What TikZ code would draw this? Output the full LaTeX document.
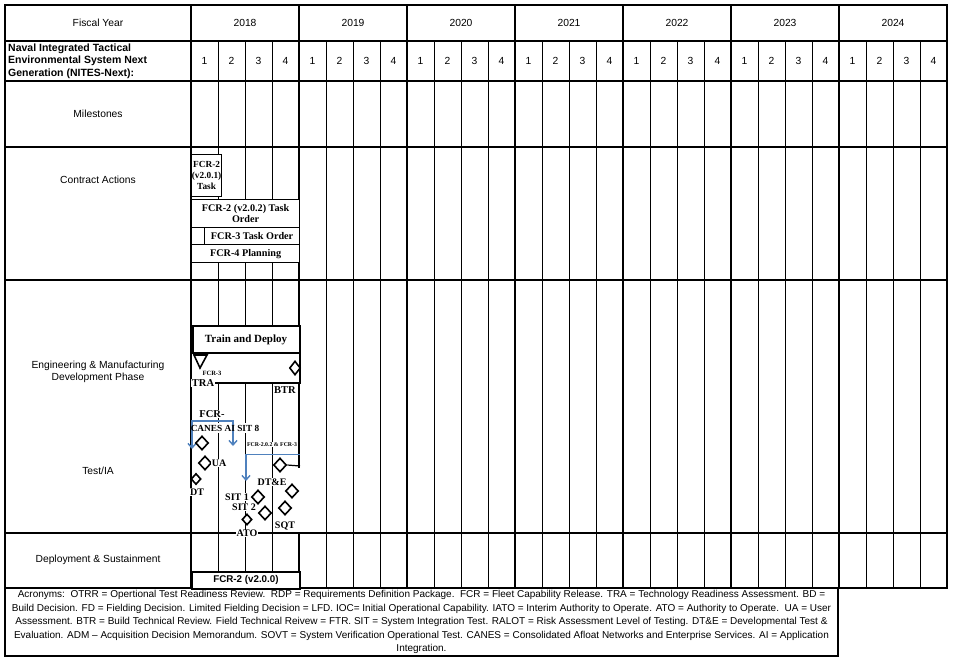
\documentclass[tikz,border=0pt]{standalone}
\usepackage{fontspec}
\setmainfont{Liberation Sans}
\newfontfamily\tms{Liberation Serif}
\usetikzlibrary{shapes.geometric,arrows.meta}
\definecolor{blu}{RGB}{79,129,189}
\begin{document}
\begin{tikzpicture}[x=1pt,y=-1pt,
  thinln/.style={line width=0.9pt},
  yrln/.style={line width=1.7pt},
  rowln/.style={line width=1.3pt},
  lbl/.style={font=\fontsize{10.3}{12.5}\selectfont, align=center, inner sep=0pt},
  tb/.style={font=\tms\bfseries\fontsize{10.2}{11.5}\selectfont, align=center, inner sep=0pt},
  tl/.style={font=\tms\bfseries\fontsize{10}{11}\selectfont, fill=white, inner sep=0.6pt},
  cbox/.style={draw, line width=1.2pt, fill=white},
  dia/.style={diamond, draw, line width=1.6pt, fill=white, minimum width=13pt, minimum height=14pt, inner sep=0pt},
  sdia/.style={dia, minimum width=10pt, minimum height=11pt},
  bluarr/.style={draw=blu, line width=1.6pt},
  tip/.tip={Straight Barb[length=4.5pt,width=8pt,line width=1.4pt]}
]
\path[use as bounding box, fill=white] (0,0) rectangle (953,662);
% quarter lines
\foreach \k in {0,...,6}{
  \foreach \q in {1,2,3}{
    \draw[thinln] ({191+108*\k+27*\q},41) -- ({191+108*\k+27*\q},588);
  }
}
% year lines
\foreach \k in {0,...,6}{
  \draw[yrln] ({191+108*\k},5) -- ({191+108*\k},588);
}
% rows
\foreach \yy in {41,81}{\draw[yrln] (5,\yy) -- (947,\yy);}
\foreach \yy in {147,280,533}{\draw[rowln] (5,\yy) -- (947,\yy);}
\draw[line width=1.9pt] (5,5) rectangle (947,588);
\draw[line width=1.9pt] (5,588) rectangle (838,656);
% header texts
\node[lbl] (fy) at (98,23) {Fiscal Year};
\foreach \k in {0,...,6}{
  \pgfmathtruncatemacro{\yr}{2018+\k}
  \node[lbl] (y\k) at ({191+108*\k+54},23) {\yr};
  \foreach \q in {1,2,3,4}{
    \node[lbl] (q\k\q) at ({191+108*\k+27*\q-13.5},61) {\q};
  }
}
\node[font=\bfseries\fontsize{10.5}{12.3}\selectfont, align=left, inner sep=0pt, anchor=west] (nites) at (8,61)
  {Naval Integrated Tactical\\Environmental System Next\\Generation (NITES-Next):};
\node[lbl] (ms) at (98,114) {Milestones};
\node[lbl] (ca) at (98,180) {Contract Actions};
\node[lbl] (emd) at (98,372) {Engineering \& Manufacturing\\Development Phase};
\node[lbl] (tia) at (98,471) {Test/IA};
\node[lbl] (ds) at (98,560) {Deployment \& Sustainment};
% contract actions
\node[cbox, minimum width=30pt, minimum height=42pt, anchor=north west, inner sep=0pt] (ca1) at (191,154) {};
\node[tb, font=\tms\bfseries\fontsize{9.3}{10.8}\selectfont] at (ca1.center) {FCR-2\\(v2.0.1)\\Task};
\node[cbox, minimum width=108pt, minimum height=28pt, anchor=north west, inner sep=0pt] (ca2) at (191,199) {};
\node[tb] at (ca2.center) {FCR-2 (v2.0.2) Task\\Order};
\node[cbox, minimum width=13pt, minimum height=17pt, anchor=north west, inner sep=0pt] (ca3a) at (191,227) {};
\node[cbox, minimum width=95pt, minimum height=17pt, anchor=north west, inner sep=0pt] (ca3) at (204,227) {};
\node[tb] at (ca3.center) {FCR-3 Task Order};
\node[cbox, minimum width=108pt, minimum height=18pt, anchor=north west, inner sep=0pt] (ca4) at (191,244) {};
\node[tb] at (ca4.center) {FCR-4 Planning};
% engineering
\draw[line width=1.2pt, fill=white] (191,352) rectangle (300,383);
\node[draw, line width=2pt, fill=white, minimum width=107pt, minimum height=27pt, anchor=north west, inner sep=0pt] (td) at (191.5,325) {};
\node[tb, font=\tms\bfseries\fontsize{11}{12}\selectfont] at (td.center) {Train and Deploy};
\draw[line width=1.6pt, fill=white] (194,355) coordinate (t1) -- (207,355) coordinate (t2) -- (200,368) coordinate (t3) -- cycle;
\node[tl, fill=none, font=\tms\bfseries\fontsize{6.5}{7}\selectfont] (fcr3) at (212,373) {FCR-3};
\node[tl, font=\tms\bfseries\fontsize{10.5}{12}\selectfont] (tra) at (203,383) {TRA};
\node[dia, minimum width=11pt] (btrd) at (295,368) {};
\node[tl, font=\tms\bfseries\fontsize{10.5}{12}\selectfont] (btr) at (285,390) {BTR};
% hide x=300 segment
\fill[white] (298,468) rectangle (302,532.3);
% test / IA
\node[tl, font=\tms\bfseries\fontsize{10.5}{12}\selectfont] (fcrm) at (212,414) {FCR-};
\fill[white] (193,423) rectangle (259,433);
\coordinate (b1a) at (192,421);
\coordinate (b1b) at (233,421);
\coordinate (b1c) at (192,449);
\coordinate (b1d) at (233,446);
\draw[bluarr, tip-tip] (b1c) -- (b1a) -- (b1b) -- (b1d);
\node[tl, fill=none, font=\tms\bfseries\fontsize{9.3}{11}\selectfont] (canes) at (225,428) {CANES AI SIT 8};
\node[tl, font=\tms\bfseries\fontsize{5.8}{7}\selectfont] (fcr23) at (272,444.5) {FCR-2.0.2 \& FCR-3};
\coordinate (b2a) at (300,454.5);
\coordinate (b2b) at (246,454.5);
\coordinate (b2c) at (246,481);
\draw[bluarr, -tip] (b2a) -- (b2b) -- (b2c);
\node[dia] (d1) at (202,443) {};
\node[dia] (d2) at (205,463) {};
\node[tl] (ua) at (219,463) {UA};
\node[sdia] (d3) at (196,479) {};
\node[tl] (dt) at (197,492) {DT};
\node[dia] (d4) at (280,465) {};
\coordinate (d4e) at (300,466);
\draw[line width=1.2pt] (d4.east) -- (d4e);
\node[tl] (dte) at (272,482) {DT\&E};
\node[dia] (d5) at (292,491) {};
\node[tl] (sit1) at (237,497) {SIT 1};
\node[dia] (d6) at (258,497) {};
\node[tl] (sit2) at (244,507) {SIT 2};
\node[dia] (d7) at (265,513) {};
\node[dia] (d8) at (285,508) {};
\node[tl] (sqt) at (285,526) {SQT};
\node[sdia] (d9) at (247,519.5) {};
\node[tl] (ato) at (247,533.5) {ATO};
% deployment
\node[draw, line width=1.9pt, fill=white, minimum width=108pt, minimum height=17pt, anchor=north west, inner sep=0pt] (fcr2) at (191,571) {};
\node[font=\bfseries\fontsize{9.8}{11}\selectfont, inner sep=0pt] at (fcr2.center) {FCR-2 (v2.0.0)};
% acronyms
\begin{scope}[every node/.style={font=\fontsize{10}{12.5}\selectfont, inner sep=0pt}]
\node (acr1) at (421.5,595) {Acronyms:\ \ OTRR = Opertional Test Readiness Review.\ \ RDP = Requirements Definition Package.\ \ FCR = Fleet Capability Release. TRA = Technology Readiness Assessment. BD =};
\node (acr2) at (421.5,608.5) {Build Decision. FD = Fielding Decision. Limited Fielding Decision = LFD. IOC= Initial Operational Capability. IATO = Interim Authority to Operate. ATO = Authority to Operate.\ \ UA = User};
\node (acr3) at (421.5,622) {Assessment. BTR = Build Technical Review. Field Technical Reivew = FTR. SIT = System Integration Test. RALOT = Risk Assessment Level of Testing. DT\&E = Developmental Test \&};
\node (acr4) at (421.5,635.5) {Evaluation. ADM – Acquisition Decision Memorandum. SOVT = System Verification Operational Test. CANES = Consolidated Afloat Networks and Enterprise Services. AI = Application};
\node (acr5) at (421.5,649) {Integration.};
\end{scope}
\end{tikzpicture}
\end{document}
